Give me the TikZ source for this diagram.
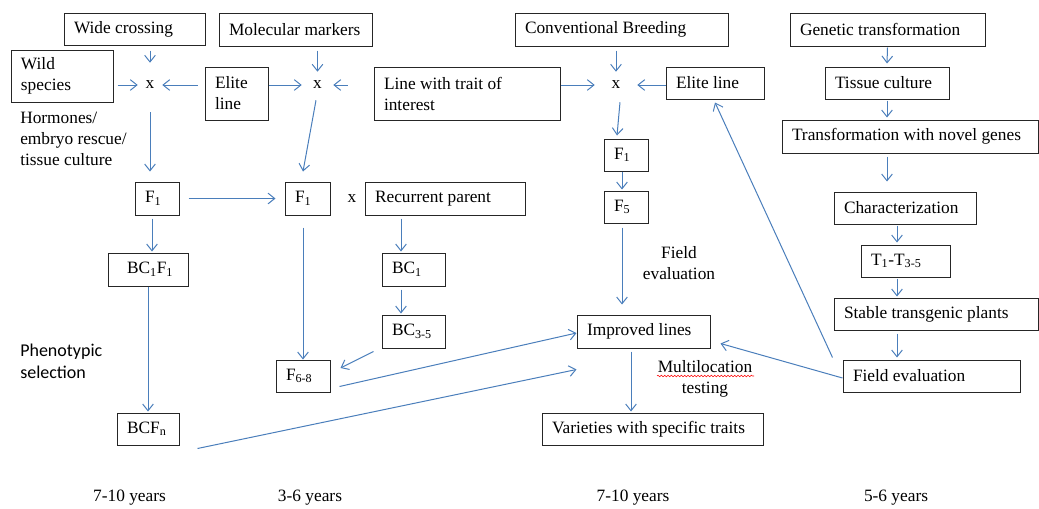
\documentclass[tikz,border=0pt]{standalone}
\usepackage{fontspec}
\setmainfont{Liberation Serif}
\newfontfamily\calibrifont{Carlito}
\usetikzlibrary{arrows.meta,calc,decorations.pathmorphing}
\definecolor{arrowblue}{HTML}{4A7EBB}
\definecolor{boxline}{HTML}{262626}
\newcommand\bx[7][]{\node[box,text width={(#5-#3)*0.75pt},minimum height={(#6-#4)*0.75pt},#1] (#2) at ({(#3+#5)/2},{(#4+#6)/2}) {#7};}
\tikzset{
  box/.style={draw=boxline, line width=0.75pt, inner xsep=0pt, inner ysep=0pt, align=left,
    execute at begin node={\spaceskip=0pt\xspaceskip=0pt\leftskip=7.5pt}},
  arr/.style={draw=arrowblue, line width=0.75pt, -{Straight Barb[length=5pt,width=8pt]}},
  xmark/.style={inner sep=0pt},
  plain/.style={inner sep=0pt, execute at begin node={\spaceskip=0pt\xspaceskip=0pt}},
}
\begin{document}
\begin{tikzpicture}[x=0.75pt,y=-0.75pt,font=\fontsize{13}{15.75}\selectfont]
\useasboundingbox (0,0) rectangle (1039,508);

% boxes
\bx{wide}{64}{13}{205}{45}{Wide crossing}
\bx{markers}{219}{13}{372}{46}{Molecular markers}
\bx{wild}{11}{50}{113}{102}{Wild\\species}
\bx{elite1}{205}{67}{268}{120}{Elite\\line}
\bx{trait}{374}{67}{560}{120}{Line with trait of\\interest}
\bx{conv}{515}{13}{728}{46}{Conventional Breeding}
\bx{elite2}{666}{67}{764}{99}{Elite line}
\bx{F1c}{604}{139}{648}{171}{F\textsubscript{1}}
\bx{F5}{604}{191}{648}{223}{F\textsubscript{5}}
\bx{F1a}{135}{182}{179}{215}{F\textsubscript{1}}
\bx{F1b}{285}{182}{330}{215}{F\textsubscript{1}}
\bx{rp}{365}{182}{525}{215}{Recurrent parent}
\bx[execute at begin node={\leftskip=14.25pt}]{bc1f1}{108}{253}{188}{286}{BC\textsubscript{1}F\textsubscript{1}}
\bx{bc1}{382}{253}{445}{286}{BC\textsubscript{1}}
\bx{bc35}{382}{315}{445}{348}{BC\textsubscript{3-5}}
\bx{F68}{276}{360}{330}{392}{F\textsubscript{6-8}}
\bx{bcfn}{117}{413}{179}{445}{BCF\textsubscript{n}}
\bx{improved}{577}{315}{710}{348}{Improved lines}
\bx{varieties}{542}{413}{763}{445}{Varieties with specific traits}
\bx{genetic}{790}{13}{985}{46}{Genetic transformation}
\bx{tissue}{825}{67}{949}{99}{Tissue culture}
\bx{trans}{782}{120}{1038}{153}{Transformation with novel genes}
\bx{char}{834}{192}{976}{224}{Characterization}
\bx{T}{861}{245}{950}{277}{T\textsubscript{1}-T\textsubscript{3-5}}
\bx{stable}{834}{298}{1038}{330}{Stable transgenic plants}
\bx{fieldR}{843}{360}{1020}{392}{Field evaluation}

% cross marks
\node[xmark, minimum width=18pt, minimum height=33pt] (x1) at (150,85) {x};
\node[xmark, minimum width=23.25pt, minimum height=19.5pt] (x2) at (317.5,85) {x};
\node[xmark, minimum width=31.5pt, minimum height=19.5pt] (x3) at (616,85) {x};
\node[plain] (xmid) at (352,199) {x};

% free texts
\node[plain, anchor=west, align=left] (hormones) at (20,139) {Hormones/\\embryo rescue/\\tissue culture};
\node[plain, anchor=west, align=left, font=\calibrifont\fontsize{13.5}{16.5}\selectfont] (pheno) at (20,361) {Phenotypic\\selection};
\node[plain, align=center] (fieldmid) at (679,263) {Field\\evaluation};
\node[plain, align=center] (multi) at (705,379) {Multilocation\\testing};
\draw[red, line width=0.4pt, decorate, decoration={snake, amplitude=0.6pt, segment length=2.5pt}]
  ($(multi.center)+(-48,-3)$) -- ($(multi.center)+(49,-3)$);
\node[plain] (yr1) at (129.5,498) {7-10 years};
\node[plain] (yr2) at (310,498) {3-6 years};
\node[plain] (yr3) at (633,498) {7-10 years};
\node[plain] (yr4) at (896,498) {5-6 years};

% connectors: wide crossing
\draw[arr, shorten <=3.75pt] (wide.south -| x1) -- (x1.north);
\draw[arr, shorten <=3pt] (wild.east |- x1) -- (x1.west);
\draw[arr, shorten <=5.25pt] (elite1.west |- x1) -- (x1.east);
\draw[arr, shorten <=3.75pt, shorten >=7.5pt] (x1.south) -- (x1 |- F1a.north);
\draw[arr, shorten <=6.75pt, shorten >=6.75pt] (F1a.east) -- (F1b.west);
\draw[arr] ($(F1a.south)+(-5,3)$) -- ($(bc1f1.north)+(4,-1)$);
\draw[arr] (bc1f1.south) -- ($(bcfn.north)+(0,-1)$);
\coordinate (bcend) at ($(improved.south west)+(0,21)$);
\draw[arr] ($(bcfn.south east)+(18,3)$) -- (bcend);

% molecular markers
\draw[arr] (elite1.east |- x2) -- (x2.west);
\draw[arr, shorten <=3pt] (markers.south -| x2) -- (x2.north);
\draw[arr, shorten <=19.5pt] (trait.west |- x2) -- (x2.east);
\draw[arr] ($(x2.south)+(-1.5,2)$) -- ($(F1b.north)+(-4.5,-10)$);
\draw[arr] ($(F1b.south)+(-4.5,12)$) -- (F68.north);
\draw[arr] ($(rp.south)+(-44,3)$) -- ($(bc1.north)+(-12.5,-1)$);
\draw[arr] ($(bc1.south)+(-12.5,3)$) -- ($(bc35.north)+(-12.5,-1)$);
\draw[arr] ($(bc35.south west)+(-8,3)$) -- ($(F68.east)+(10,-8)$);
\draw[arr] ($(F68.south east)+(9,-6)$) -- ($(improved.west)+(0,1.5)$);

% conventional breeding
\draw[arr, shorten <=3pt] (conv.south -| x3) -- (x3.north);
\draw[arr] (trait.east |- x3) -- (x3.west);
\draw[arr] (elite2.west |- x3) -- (x3.east);
\draw[arr] ($(x3.south)+(4,4)$) -- ($(F1c.north)+(-9,-3)$);
\draw[arr] ($(F1c.south)+(-4,0)$) -- ($(F5.north)+(-4,-1)$);
\draw[arr] ($(F5.south)+(-4,4)$) -- ($(improved.north)+(-21.5,-10)$);
\draw[arr] ($(improved.south)+(-12.5,3)$) -- ($(varieties.north)+(-21.5,-1)$);

% genetic transformation
\draw[arr] ($(genetic.south)+(0,1)$) -- ($(tissue.north)+(0,-3)$);
\draw[arr] ($(tissue.south)+(0,1)$) -- ($(trans.north)+(-23,-2)$);
\draw[arr] ($(trans.south)+(-23,3)$) -- ($(char.north)+(-18,-10)$);
\draw[arr] ($(char.south)+(-8,1)$) -- ($(T.north)+(-8.5,-2)$);
\draw[arr] ($(T.south)+(-8.5,1)$) -- ($(stable.north)+(-39,-1)$);
\draw[arr] ($(stable.south)+(-39,3)$) -- ($(fieldR.north)+(-34.5,-2)$);
\draw[arr] ($(fieldR.north west)+(-10,-2)$) -- ($(elite2.south)+(0,3)$);
\draw[arr] ($(fieldR.west)+(0,2)$) -- ($(improved.south east)+(10,-5)$);
\end{tikzpicture}
\end{document}
